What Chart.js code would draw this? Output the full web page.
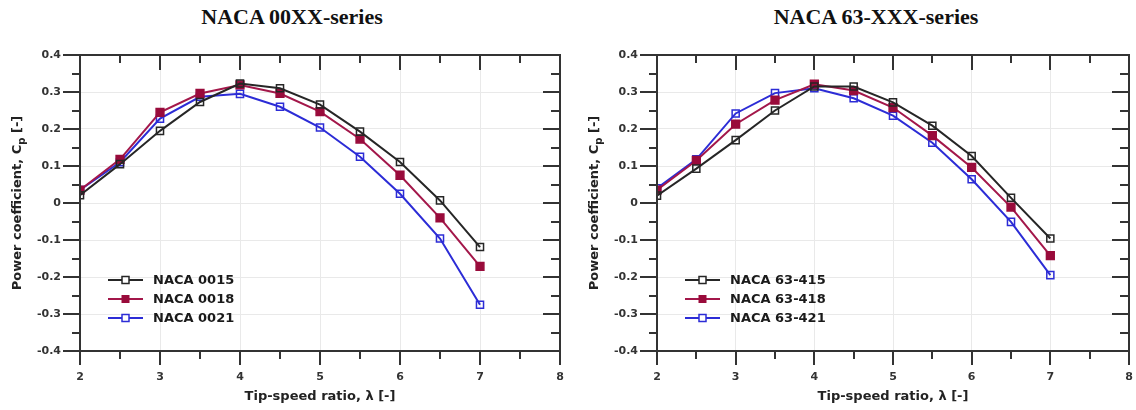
<!DOCTYPE html>
<html>
<head>
<meta charset="utf-8">
<script src="https://cdn.jsdelivr.net/npm/chart.js@4.4.1/dist/chart.umd.min.js"></script>
<style>
  html, body { margin: 0; padding: 0; background: #fff; }
  #wrap { position: relative; width: 1136px; height: 410px; overflow: hidden; }
  canvas { position: absolute; top: 0; }
  .title {
    position: absolute; top: 4px; line-height: 26px; text-align: center;
    font-family: "Liberation Serif", "Times New Roman", serif; font-weight: bold;
    font-size: 22px; color: #111;
  }
</style>
</head>
<body>
<div id="wrap">
  <div class="title" style="left:0;width:584px">NACA 00XX-series</div>
  <div class="title" style="left:616px;width:520px">NACA 63-XXX-series</div>
  <canvas id="left" width="568" height="410" style="left:0"></canvas>
  <canvas id="right" width="568" height="410" style="left:568px"></canvas>
</div>
<script>
// tip-speed ratio
const lambda = [2, 2.5, 3, 3.5, 4, 4.5, 5, 5.5, 6, 6.5, 7];

// Cp, symmetric profiles
const naca0015 = [0.021, 0.105, 0.195, 0.273, 0.323, 0.31, 0.266, 0.193, 0.111, 0.007, -0.119];
const naca0018 = [0.035, 0.118, 0.245, 0.296, 0.319, 0.296, 0.247, 0.173, 0.075, -0.04, -0.171];
const naca0021 = [0.035, 0.11, 0.228, 0.287, 0.295, 0.26, 0.204, 0.125, 0.025, -0.096, -0.275];

// Cp, 63-series profiles
const naca63415 = [0.02, 0.093, 0.17, 0.25, 0.315, 0.315, 0.272, 0.209, 0.127, 0.014, -0.096];
const naca63418 = [0.035, 0.115, 0.213, 0.278, 0.321, 0.304, 0.258, 0.182, 0.096, -0.011, -0.142];
const naca63421 = [0.04, 0.118, 0.242, 0.297, 0.31, 0.283, 0.236, 0.163, 0.064, -0.051, -0.195];

const xTicks = [2, 3, 4, 5, 6, 7, 8];
const yTicks = [-0.4, -0.3, -0.2, -0.1, 0, 0.1, 0.2, 0.3, 0.4];
const yTickLabels = ["-0.4", "-0.3", "-0.2", "-0.1", "0", "0.1", "0.2", "0.3", "0.4"];

const FONT = "'DejaVu Sans', Verdana, sans-serif";
const colors = {
  black: "#262626",
  red: "#a3174a",
  redFill: "#990b3b",
  blue: "#2c2cd6",
};

const series = (label, data, color, fill, filled) => ({
  label,
  data: lambda.map((x, i) => ({ x, y: data[i] })),
  borderColor: color,
  borderWidth: 2,
  pointStyle: "rect",
  pointRadius: filled ? 5.5 : 5,
  pointBorderWidth: 1.5,
  pointBorderColor: filled ? fill : color,
  pointBackgroundColor: filled ? fill : "rgba(255,255,255,0)",
  tension: 0,
  filled,
});

// frame with major/minor ticks, in/out like the plotting package does
const framePlugin = {
  id: "frame",
  afterDatasetsDraw(chart) {
    const { ctx, chartArea: a, scales } = chart;
    const xs = scales.x, ys = scales.y;
    ctx.save();
    ctx.strokeStyle = "#333";
    ctx.lineWidth = 2;
    ctx.beginPath();
    for (let v = 2; v <= 8.001; v += 0.5) {
      const px = Math.round(xs.getPixelForValue(v));
      const major = Math.abs(v - Math.round(v)) < 1e-6;
      ctx.moveTo(px, a.bottom); ctx.lineTo(px, a.bottom + (major ? 14 : 8));
      ctx.moveTo(px, a.top); ctx.lineTo(px, a.top + (major ? 15 : 8));
    }
    for (let i = -8; i <= 8; i++) {
      const py = Math.round(ys.getPixelForValue(i * 0.05));
      const major = i % 2 === 0;
      ctx.moveTo(a.left, py); ctx.lineTo(a.left - (major ? 17 : 8), py);
      ctx.moveTo(a.right, py); ctx.lineTo(a.right - (major ? 17 : 9), py);
    }
    ctx.stroke();
    ctx.strokeRect(a.left, a.top, a.right - a.left, a.bottom - a.top);

    // y title with subscript p
    ctx.fillStyle = "#222";
    ctx.translate(a.left - 62, (a.top + a.bottom) / 2);
    ctx.rotate(-Math.PI / 2);
    ctx.textBaseline = "middle";
    const main = "Power coefficient, C", tail = " [-]";
    ctx.font = "bold 13px " + FONT;
    const w1 = ctx.measureText(main).width, w3 = ctx.measureText(tail).width;
    ctx.font = "bold 10px " + FONT;
    const w2 = ctx.measureText("p").width;
    let x0 = -(w1 + w2 + w3) / 2;
    ctx.font = "bold 13px " + FONT;
    ctx.fillText(main, x0, 0);
    ctx.font = "bold 10px " + FONT;
    ctx.fillText("p", x0 + w1, 4);
    ctx.font = "bold 13px " + FONT;
    ctx.fillText(tail, x0 + w1 + w2, 0);
    ctx.restore();
  },
  afterDraw(chart) {
    // legend inside the plot, lower left
    const { ctx, chartArea: a } = chart;
    ctx.save();
    ctx.font = "bold 13px " + FONT;
    ctx.textBaseline = "middle";
    chart.data.datasets.forEach((ds, i) => {
      const y = 280 + i * 19;
      const x1 = a.left + 28, x2 = a.left + 63, cx = (x1 + x2) / 2;
      ctx.strokeStyle = ds.borderColor;
      ctx.lineWidth = 2;
      ctx.beginPath(); ctx.moveTo(x1, y); ctx.lineTo(x2, y); ctx.stroke();
      const s = ds.filled ? 8 : 7;
      if (ds.filled) {
        ctx.fillStyle = ds.pointBackgroundColor;
        ctx.fillRect(cx - s / 2, y - s / 2, s, s);
      } else {
        ctx.fillStyle = "#fff";
        ctx.fillRect(cx - s / 2, y - s / 2, s, s);
        ctx.lineWidth = 1.5;
        ctx.strokeRect(cx - s / 2, y - s / 2, s, s);
      }
      ctx.fillStyle = "#1a1a1a";
      ctx.fillText(ds.label, a.left + 73, y + 1);
    });
    ctx.restore();
  },
};

const makeChart = (id, datasets, yAxisWidth, rightPad) => new Chart(document.getElementById(id), {
  type: "line",
  data: { datasets },
  options: {
    responsive: false,
    maintainAspectRatio: false,
    animation: false,
    layout: { padding: { left: 0, right: rightPad, top: 55, bottom: 0 } },
    plugins: { legend: { display: false }, tooltip: { enabled: false } },
    scales: {
      x: {
        type: "linear",
        min: 2,
        max: 8,
        afterBuildTicks: (s) => { s.ticks = xTicks.map((v) => ({ value: v })); },
        afterFit: (s) => { s.height = 59; s.paddingLeft = 0; s.paddingRight = 0; },
        ticks: {
          font: { family: FONT, size: 11, weight: "bold" },
          color: "#333",
          padding: 20,
          maxRotation: 0,
        },
        grid: { color: "#e9e9e9", lineWidth: 1, drawTicks: false },
        border: { display: false },
        title: {
          display: true,
          text: "Tip-speed ratio, λ [-]",
          font: { family: FONT, size: 13, weight: "bold" },
          color: "#222",
          padding: { top: 0, bottom: 6 },
        },
      },
      y: {
        type: "linear",
        min: -0.4,
        max: 0.4,
        afterBuildTicks: (s) => { s.ticks = yTicks.map((v) => ({ value: v })); },
        afterFit: (s) => { s.width = yAxisWidth; s.paddingTop = 0; s.paddingBottom = 0; },
        ticks: {
          font: { family: FONT, size: 11, weight: "bold" },
          color: "#333",
          padding: 19,
          callback: (v) => yTickLabels[yTicks.findIndex((t) => Math.abs(t - v) < 1e-9)],
        },
        grid: { color: "#e9e9e9", lineWidth: 1, drawTicks: false },
        border: { display: false },
      },
    },
  },
  plugins: [framePlugin],
});

makeChart("left", [
  series("NACA 0015", naca0015, colors.black, colors.black, false),
  series("NACA 0018", naca0018, colors.red, colors.redFill, true),
  series("NACA 0021", naca0021, colors.blue, colors.blue, false),
], 80, 8);

makeChart("right", [
  series("NACA 63-415", naca63415, colors.black, colors.black, false),
  series("NACA 63-418", naca63418, colors.red, colors.redFill, true),
  series("NACA 63-421", naca63421, colors.blue, colors.blue, false),
], 89, 1);
</script>
</body>
</html>
